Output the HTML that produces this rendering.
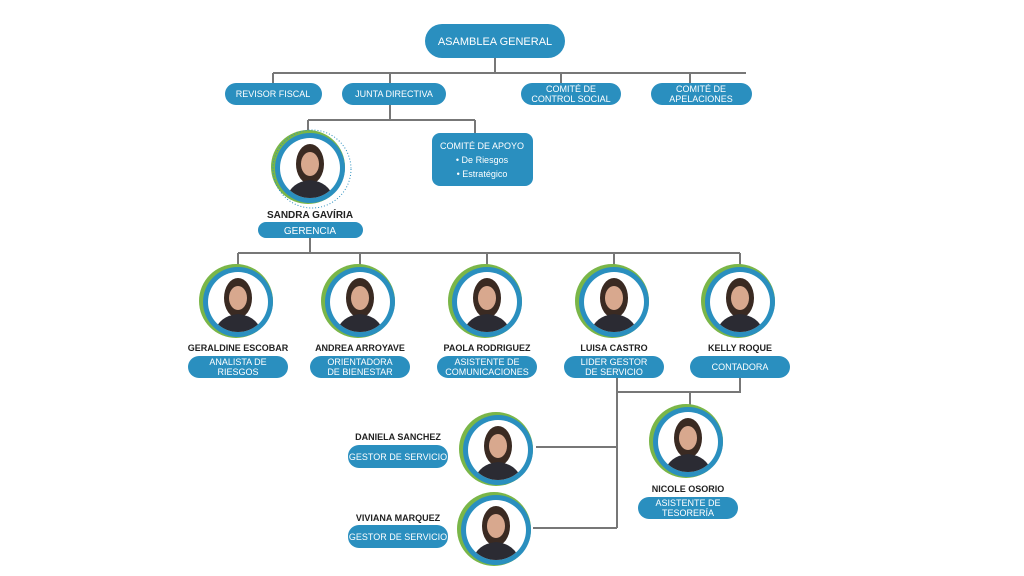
<!DOCTYPE html>
<html><head><meta charset="utf-8"><style>
html,body{margin:0;padding:0;background:#fff;}
svg{display:block;}
text{font-family:"Liberation Sans",sans-serif;}
.b{fill:#2a8fbf;}
.w{fill:#fff;font-size:9px;text-anchor:middle;}
.n{fill:#222;font-size:9px;font-weight:bold;text-anchor:middle;}
.l{stroke:#777;stroke-width:2;fill:none;}
</style></head><body>
<svg width="1024" height="576" viewBox="0 0 1024 576">
<defs>
<g id="p">
<circle cx="-2" cy="-1" r="37" fill="#7ab648"/>
<circle cx="0" cy="0" r="35" fill="#2a8fbf"/>
<circle cx="0" cy="0" r="30" fill="#fff"/>
<clipPath id="c"><circle cx="0" cy="0" r="30"/></clipPath>
<g clip-path="url(#c)">
<ellipse cx="0" cy="-4" rx="14" ry="20" fill="#3a2a22"/>
<path d="M-24 32 Q-20 14 0 12 Q20 14 24 32Z" fill="#2b2b33"/>
<ellipse cx="0" cy="-4" rx="9" ry="12" fill="#d8a88e"/>
</g>
</g>
</defs>
<!-- lines -->
<path class="l" d="M495 58V73M273 73H746M273 73V83M390 73V83M561 73V83M690 73V83"/>
<path class="l" d="M390 105V120M308 120H475M308 120V133M475 120V133"/>
<path class="l" d="M310 238V253M238 253H740M238 253V265M360 253V265M487 253V265M614 253V265M740 253V265"/>
<path class="l" d="M617 378V528M617 392H740V378M690 392V405M536 447H617M533 528H617"/>
<!-- top boxes -->
<rect class="b" x="425" y="24" width="140" height="34" rx="17"/>
<text class="w" x="495" y="45" style="font-size:11px">ASAMBLEA GENERAL</text>
<rect class="b" x="225" y="83" width="97" height="22" rx="11"/>
<text class="w" x="273" y="97">REVISOR FISCAL</text>
<rect class="b" x="342" y="83" width="104" height="22" rx="11"/>
<text class="w" x="394" y="97">JUNTA DIRECTIVA</text>
<rect class="b" x="521" y="83" width="100" height="22" rx="11"/>
<text class="w" x="571" y="92">COMITÉ DE</text><text class="w" x="571" y="102">CONTROL SOCIAL</text>
<rect class="b" x="651" y="83" width="101" height="22" rx="11"/>
<text class="w" x="701" y="92">COMITÉ DE</text><text class="w" x="701" y="102">APELACIONES</text>
<rect class="b" x="432" y="133" width="101" height="53" rx="8"/>
<text class="w" x="482" y="149">COMITÉ DE APOYO</text>
<text class="w" x="482" y="163">• De Riesgos</text>
<text class="w" x="482" y="177">• Estratégico</text>
<!-- Sandra -->
<use href="#p" x="310" y="168"/>
<circle cx="312" cy="169" r="39" fill="none" stroke="#2a8fbf" stroke-width="1" stroke-dasharray="1 2"/>
<text class="n" x="310" y="218" style="font-size:10px">SANDRA GAVÍRIA</text>
<rect class="b" x="258" y="222" width="105" height="16" rx="8"/>
<text class="w" x="310" y="234" style="font-size:10px">GERENCIA</text>
<!-- row -->
<use href="#p" x="238" y="302"/><use href="#p" x="360" y="302"/><use href="#p" x="487" y="302"/><use href="#p" x="614" y="302"/><use href="#p" x="740" y="302"/>
<text class="n" x="238" y="351">GERALDINE ESCOBAR</text>
<text class="n" x="360" y="351">ANDREA ARROYAVE</text>
<text class="n" x="487" y="351">PAOLA RODRIGUEZ</text>
<text class="n" x="614" y="351">LUISA CASTRO</text>
<text class="n" x="740" y="351">KELLY ROQUE</text>
<rect class="b" x="188" y="356" width="100" height="22" rx="11"/>
<text class="w" x="238" y="365">ANALISTA DE</text><text class="w" x="238" y="375">RIESGOS</text>
<rect class="b" x="310" y="356" width="100" height="22" rx="11"/>
<text class="w" x="360" y="365">ORIENTADORA</text><text class="w" x="360" y="375">DE BIENESTAR</text>
<rect class="b" x="437" y="356" width="100" height="22" rx="11"/>
<text class="w" x="487" y="365">ASISTENTE DE</text><text class="w" x="487" y="375">COMUNICACIONES</text>
<rect class="b" x="564" y="356" width="100" height="22" rx="11"/>
<text class="w" x="614" y="365">LIDER GESTOR</text><text class="w" x="614" y="375">DE SERVICIO</text>
<rect class="b" x="690" y="356" width="100" height="22" rx="11"/>
<text class="w" x="740" y="370">CONTADORA</text>
<!-- lower -->
<use href="#p" x="498" y="450"/><use href="#p" x="496" y="530"/><use href="#p" x="688" y="442"/>
<text class="n" x="398" y="440">DANIELA SANCHEZ</text>
<rect class="b" x="348" y="445" width="100" height="23" rx="11"/>
<text class="w" x="398" y="460">GESTOR DE SERVICIO</text>
<text class="n" x="398" y="521">VIVIANA MARQUEZ</text>
<rect class="b" x="348" y="525" width="100" height="23" rx="11"/>
<text class="w" x="398" y="540">GESTOR DE SERVICIO</text>
<text class="n" x="688" y="492">NICOLE OSORIO</text>
<rect class="b" x="638" y="497" width="100" height="22" rx="11"/>
<text class="w" x="688" y="506">ASISTENTE DE</text><text class="w" x="688" y="516">TESORERÍA</text>
</svg>
</body></html>
